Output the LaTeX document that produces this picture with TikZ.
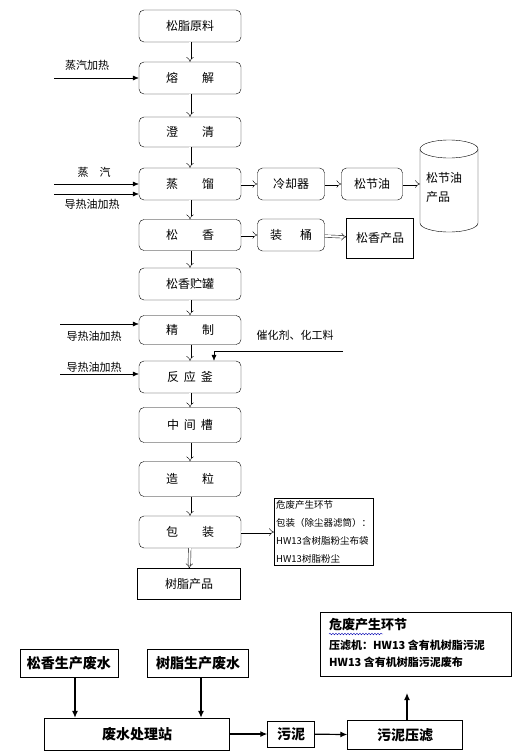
\documentclass[tikz,border=0pt]{standalone}
\usepackage{fontspec}
\setmainfont{Noto Sans CJK SC}
\usetikzlibrary{arrows.meta,decorations.pathmorphing}

\begin{document}
\begin{tikzpicture}[x=1pt, y=-1pt,
    stage/.style={draw, rounded corners=5pt, minimum width=102pt, minimum height=32pt, inner sep=0pt, font=\fontsize{12}{14}\selectfont},
    sidebox/.style={draw, rounded corners=5pt, minimum width=67pt, minimum height=32pt, inner sep=0pt, font=\fontsize{12}{14}\selectfont},
    plainbox/.style={draw, minimum height=28pt, inner sep=0pt, font=\fontsize{14}{16}\selectfont\bfseries},
    lbl/.style={inner sep=0pt, font=\fontsize{11}{13}\selectfont},
    dbl/.style={double, double distance=2.2pt, -{Implies}, thin},
    feed/.style={-{Latex[length=6pt,width=5pt]}, thin},
    flow/.style={-{Latex[length=7pt,width=6pt]}, line width=1.2pt}]
  \useasboundingbox (0,0) rectangle (512,755);

  % main process column
  \node[stage] (raw)    at (190,26)  {松脂原料};
  \node[stage] (melt)   at (190,78)  {熔\hspace{2em}解};
  \node[stage, minimum height=30pt] (clar) at (190,132) {澄\hspace{2em}清};
  \node[stage] (dist)   at (190,184) {蒸\hspace{2em}馏};
  \node[stage, minimum height=31pt] (rosin) at (190,235) {松\hspace{2em}香};
  \node[stage] (tank)   at (190,284) {松香贮罐};
  \node[stage, minimum height=29pt] (refine) at (190,330) {精\hspace{2em}制};
  \node[stage] (kettle) at (190,377) {反\hspace{0.4em}应\hspace{0.4em}釜};
  \node[stage, minimum height=35pt] (mid) at (190,425) {中\hspace{0.4em}间\hspace{0.4em}槽};
  \node[stage, minimum height=35pt] (gran) at (190,479) {造\hspace{2em}粒};
  \node[stage] (pack)   at (190,532) {包\hspace{2em}装};
  \node[draw, minimum width=103pt, minimum height=31pt, inner sep=0pt, font=\fontsize{12}{14}\selectfont] (resin) at (189,584) {树脂产品};

  \foreach \a/\b in {raw/melt, melt/clar, clar/dist, dist/rosin, rosin/tank,
                     tank/refine, refine/kettle, kettle/mid, mid/gran, gran/pack, pack/resin}
    \draw[dbl] (\a) -- (\b);

  % side branches
  \node[sidebox] (cool) at (291,184) {冷却器};
  \node[sidebox, minimum width=61pt] (oil) at (372,184) {松节油};
  \node[sidebox] (barrel) at (291,235) {装\hspace{1.5em}桶};
  \node[draw, minimum width=67pt, minimum height=40pt, inner sep=0pt, font=\fontsize{12}{14}\selectfont] (rprod) at (380,238) {松香产品};
  \draw (420,149) -- (420,223) arc[start angle=180, end angle=360, x radius=29pt, y radius=9pt] -- (478,149);
  \draw (449,149) ellipse[x radius=29pt, y radius=9pt];
  \coordinate (cyl) at (420,184);
  \node[lbl, font=\fontsize{12}{14}\selectfont, align=left, anchor=west] (oilprod) at (426,187) {松节油\\[5pt]产品};

  \draw[dbl] (dist) -- (cool);
  \draw[dbl] (cool) -- (oil);
  \draw[dbl] (oil) -- (cyl);
  \draw[dbl] (rosin) -- (barrel);
  \draw[dbl] (barrel) -- (rprod);

  % heating inputs
  \coordinate (s1) at (54,78);
  \coordinate (s2) at (54,184);
  \coordinate (s3) at (54,194);
  \coordinate (s4) at (60,324);
  \coordinate (s5) at (60,374);
  \node[lbl] (l1) at (87,65)  {蒸汽加热};
  \node[lbl] (l2) at (94,172) {蒸\hspace{1em}汽};
  \node[lbl] (l3) at (92,204) {导热油加热};
  \node[lbl] (l4) at (94,336) {导热油加热};
  \node[lbl] (l5) at (94,367) {导热油加热};
  \draw[feed] (s1) -- (s1 -| melt.west);
  \draw[feed] (s2) -- (s2 -| dist.west);
  \draw[feed] (s3) -- (s3 -| dist.west);
  \draw[feed] (s4) -- (s4 -| refine.west);
  \draw[feed] (s5) -- (s5 -| kettle.west);

  % catalyst feed
  \node[lbl] (cat) at (295,335) {催化剂、化工料};
  \coordinate (c1) at (343,351);
  \coordinate (c2) at (214,351);
  \draw[feed] (c1) -- (c2) -- (c2 |- kettle.north);

  % hazardous waste from packing
  \node[draw, thin, align=left, anchor=north west, inner sep=2pt, font=\fontsize{9.5}{18}\selectfont] (haz1) at (274,498)
    {危废产生环节\\包装（除尘器滤筒）：\\HW13含树脂粉尘布袋\\HW13树脂粉尘};
  \draw[dbl] (pack) -- (pack -| haz1.west);

  % wastewater section
  \node[plainbox, minimum width=98pt] (ww1) at (69,663) {松香生产废水};
  \node[plainbox, minimum width=101pt] (ww2) at (198,663) {树脂生产废水};
  \node[plainbox, minimum width=185pt, minimum height=32pt] (wwt) at (137,734) {废水处理站};
  \node[plainbox, minimum width=47pt, minimum height=26pt] (sludge) at (291,734) {污泥};
  \node[plainbox, minimum width=115pt, minimum height=29pt] (press) at (405,735) {污泥压滤};
  \node[draw, minimum width=191pt, minimum height=64pt, inner sep=0pt] (haz2) at (416,644) {};
  \node[anchor=west, inner sep=0pt, font=\fontsize{13}{15}\selectfont\bfseries] (h1) at (329,625) {危废产生环节};
  \node[anchor=west, inner sep=0pt, font=\fontsize{11}{13}\selectfont\bfseries] (h2) at (329,645) {压滤机：HW13 含有机树脂污泥};
  \node[anchor=west, inner sep=0pt, font=\fontsize{11}{13}\selectfont\bfseries] (h3) at (329,662) {HW13 含有机树脂污泥废布};
  \draw[blue!70!black, decorate, decoration={snake, segment length=3pt, amplitude=0.8pt}] (329,634) -- (383,634);

  \coordinate (w1) at (75,0);
  \coordinate (w2) at (201,0);
  \coordinate (up) at (407,693);
  \draw[flow] (ww1.south -| w1) -- (wwt.north -| w1);
  \draw[flow] (ww2.south -| w2) -- (wwt.north -| w2);
  \draw[flow] (wwt) -- (sludge);
  \draw[flow] (sludge) -- (press);
  \draw[flow] (press.north -| up) -- (up);
\end{tikzpicture}
\end{document}
